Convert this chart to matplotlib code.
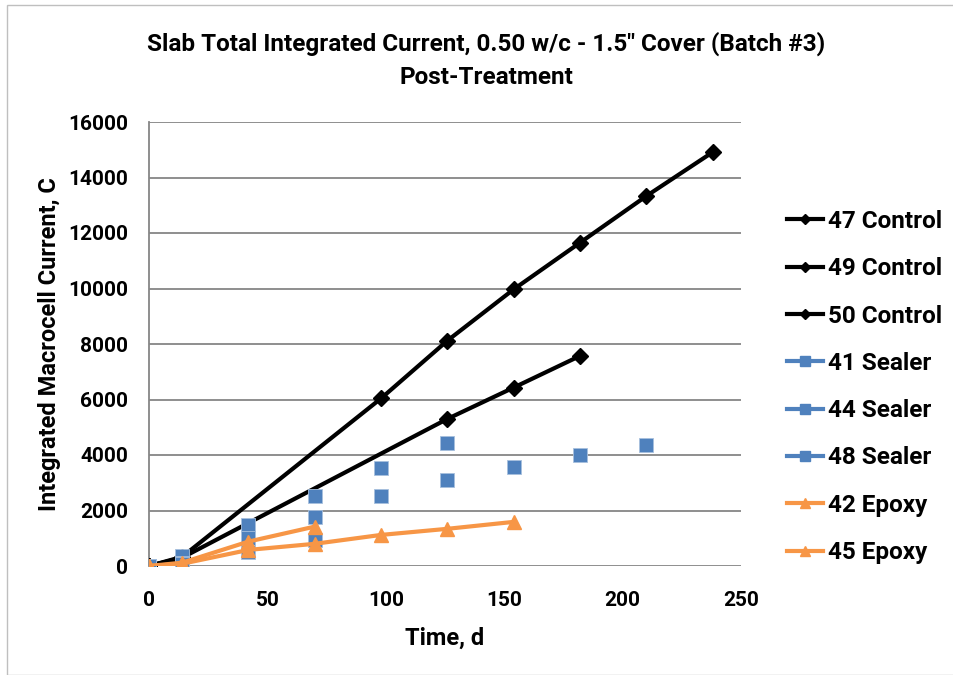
import matplotlib
matplotlib.use("Agg")
import matplotlib.pyplot as plt
from matplotlib.lines import Line2D
from matplotlib.patches import Rectangle

plt.rcParams['font.family'] = ['Roboto', 'DejaVu Sans']
plt.rcParams['font.weight'] = 'bold'

# ---- data ----
c47_days = [0, 14, 98, 126, 154, 182, 210, 238]
c47_vals = [0, 330, 6040, 8120, 9970, 11650, 13330, 14910]
c49_days = [0, 14, 126, 154, 182]
c49_vals = [0, 300, 5300, 6430, 7570]
c50_days = [0, 14]
c50_vals = [0, 280]

s41_days = [0, 14, 42, 70, 98, 126]
s41_vals = [0, 360, 1480, 2520, 3520, 4420]
s44_days = [0, 14, 42, 70, 98, 126, 154, 182, 210]
s44_vals = [0, 100, 1000, 1780, 2535, 3100, 3580, 4000, 4360]
s48_days = [0, 14, 42, 70]
s48_vals = [0, 80, 515, 940]

e42_days = [0, 14, 42, 70]
e42_vals = [0, 120, 880, 1420]
e45_days = [0, 14, 42, 70, 98, 126, 154]
e45_vals = [0, 80, 580, 800, 1120, 1340, 1590]

labels = ["47 Control", "49 Control", "50 Control", "41 Sealer", "44 Sealer",
          "48 Sealer", "42 Epoxy", "45 Epoxy"]
x_ticks = [0, 50, 100, 150, 200, 250]
y_ticks = [0, 2000, 4000, 6000, 8000, 10000, 12000, 14000, 16000]

BLUE = '#4F81BD'
ORANGE = '#F79646'

fig = plt.figure(figsize=(9.54, 6.75), dpi=100)
fig.patches.append(Rectangle((7/954, 0.0), 1 - 7/954, 1 - 5/675, transform=fig.transFigure,
                             fill=False, edgecolor='#BFBFBF', linewidth=1.0))
ax = fig.add_axes([149/954, 1 - 566/675, (741 - 149)/954, (566 - 122)/675])

for d, v in [(c47_days, c47_vals), (c49_days, c49_vals), (c50_days, c50_vals)]:
    ax.plot(d, v, color='black', linewidth=3.0, marker='D', markersize=8, zorder=3)
for d, v in [(s41_days, s41_vals), (s44_days, s44_vals), (s48_days, s48_vals)]:
    ax.plot(d, v, linestyle='none', marker='s', markersize=9.5, color=BLUE,
            markeredgecolor='#A7C0DE', markeredgewidth=0.6, zorder=4)
for d, v in [(e42_days, e42_vals), (e45_days, e45_vals)]:
    ax.plot(d, v, color=ORANGE, linewidth=3.0, marker='^', markersize=10, zorder=5)

ax.set_xlim(0, 250)
ax.set_ylim(0, 16000)
ax.set_xticks(x_ticks)
ax.set_yticks(y_ticks)
ax.set_xticklabels([str(t) for t in x_ticks])
ax.set_yticklabels([str(t) for t in y_ticks])
ax.tick_params(axis='both', length=0, labelsize=15)
ax.tick_params(axis='x', pad=18)
ax.tick_params(axis='y', pad=15)
for lbl in ax.get_xticklabels() + ax.get_yticklabels():
    lbl.set_fontweight('bold')
ax.grid(axis='y', color='#868686', linewidth=1.3)
ax.set_axisbelow(True)
for s in ['top', 'right', 'bottom']:
    ax.spines[s].set_visible(False)
ax.spines['left'].set_color('#868686')
ax.spines['left'].set_linewidth(1.3)

ax.set_xlabel("Time, d", fontsize=17, fontweight='bold', labelpad=12)
ax.set_ylabel("Integrated Macrocell Current, C", fontsize=17, fontweight='bold', labelpad=5)

fig.text(486/954, 1 - 44/675, 'Slab Total Integrated Current, 0.50 w/c - 1.5" Cover (Batch #3)',
         ha='center', va='center', fontsize=17.5, fontweight='bold')
fig.text(486/954, 1 - 77/675, 'Post-Treatment', ha='center', va='center',
         fontsize=17.5, fontweight='bold')

handles = [
    Line2D([], [], color='black', linewidth=3.0, marker='D', markersize=5),
    Line2D([], [], color='black', linewidth=3.0, marker='D', markersize=5),
    Line2D([], [], color='black', linewidth=3.0, marker='D', markersize=5),
    Line2D([], [], color=BLUE, linewidth=3.0, marker='s', markersize=7),
    Line2D([], [], color=BLUE, linewidth=3.0, marker='s', markersize=7),
    Line2D([], [], color=BLUE, linewidth=3.0, marker='s', markersize=7),
    Line2D([], [], color=ORANGE, linewidth=3.0, marker='^', markersize=7),
    Line2D([], [], color=ORANGE, linewidth=3.0, marker='^', markersize=7),
]
leg = fig.legend(handles, labels, loc='center left', bbox_to_anchor=(787/954, 1 - 387/675),
                 frameon=False, prop={'size': 17.5, 'weight': 'bold'}, handlelength=1.5,
                 handletextpad=0.2, labelspacing=1.0, borderaxespad=0, borderpad=0)

fig.savefig("out.png", dpi=100)
